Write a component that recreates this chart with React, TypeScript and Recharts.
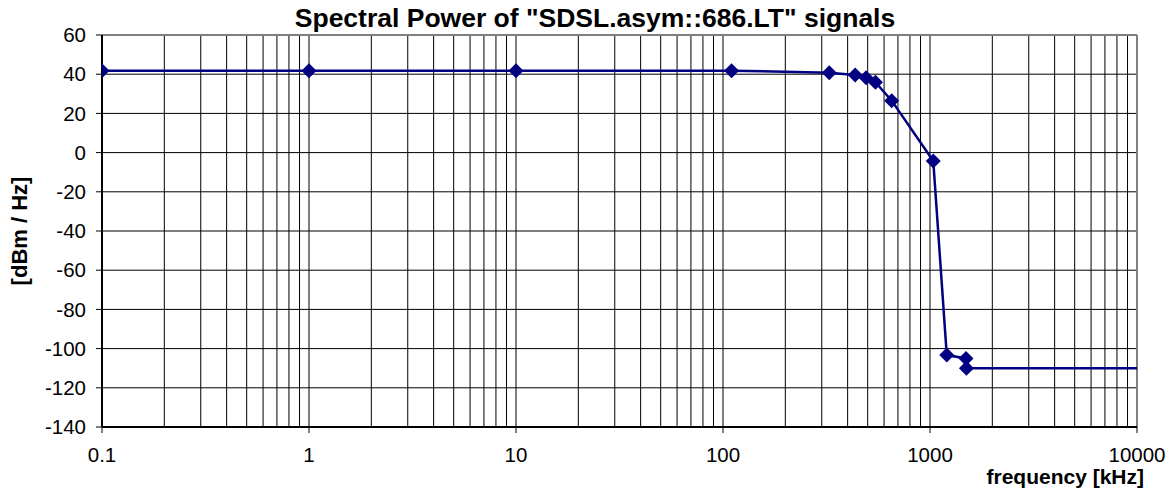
import { LineChart, Line, XAxis, YAxis, CartesianGrid, ReferenceLine } from "recharts";

const frequencies = [0.1, 1, 10, 110, 326, 435, 491, 545, 653, 1037, 1205, 1493, 1500, 10000];
const powers = [41.8, 41.8, 41.8, 41.8, 40.8, 39.6, 38.2, 35.9, 26.5, -4.3, -103.3, -105, -110, -110];
const decades = [0.1, 1, 10, 100, 1000, 10000];
const yTicks = [-140, -120, -100, -80, -60, -40, -20, 0, 20, 40, 60];

const xTicks: number[] = [];
decades.slice(0, -1).forEach((d) => {
  for (let m = 1; m <= 9; m++) xTicks.push(Number((d * m).toPrecision(3)));
});
xTicks.push(10000);

const data = frequencies.map((f, i) => ({ f, p: powers[i] }));

const FONT = "'Liberation Sans', Arial, sans-serif";

const XTick = (props: any) => {
  const { x, y, payload } = props;
  if (!decades.includes(payload.value)) return null;
  return (
    <g>
      <line x1={x} x2={x} y1={y} y2={y + 6} stroke="#000" />
      <text x={x} y={y + 35} textAnchor="middle" fontSize={20.5} fontFamily={FONT} fill="#000">
        {String(payload.value)}
      </text>
    </g>
  );
};

const Diamond = (props: any) => {
  const { cx, cy, index } = props;
  if (index === frequencies.length - 1 || cx == null) return <g key={index} />;
  const r = 7.5;
  return (
    <polygon
      key={index}
      points={`${cx},${cy - r} ${cx + r},${cy} ${cx},${cy + r} ${cx - r},${cy}`}
      fill="#000080"
    />
  );
};

export default function App() {
  return (
    <div style={{ position: "absolute", left: 0, top: 0, width: 1174, height: 490, background: "#fff", fontFamily: FONT }}>
      <div
        style={{
          position: "absolute",
          left: 0,
          width: 1190,
          top: 3,
          textAlign: "center",
          fontSize: 26.5,
          fontWeight: "bold",
          color: "#000",
          whiteSpace: "nowrap",
        }}
      >
        Spectral Power of "SDSL.asym::686.LT" signals
      </div>
      <div
        style={{
          position: "absolute",
          left: 20,
          top: 231,
          transform: "translate(-50%, -50%) rotate(-90deg)",
          fontSize: 22,
          fontWeight: "bold",
          whiteSpace: "nowrap",
        }}
      >
        [dBm / Hz]
      </div>
      <div
        style={{
          position: "absolute",
          right: 30,
          top: 466,
          fontSize: 21,
          lineHeight: 1,
          fontWeight: "bold",
          whiteSpace: "nowrap",
        }}
      >
        frequency [kHz]
      </div>
      <LineChart width={1174} height={490} data={data} margin={{ top: 35, right: 37, bottom: 0, left: 0 }}>
        <CartesianGrid stroke="#000" strokeWidth={1} />
        <XAxis
          dataKey="f"
          type="number"
          scale="log"
          domain={[0.1, 10000]}
          allowDataOverflow
          ticks={xTicks}
          interval={0}
          height={63}
          tickLine={false}
          tickSize={0}
          tickMargin={0}
          axisLine={{ stroke: "#000", strokeWidth: 2 }}
          tick={<XTick />}
        />
        <YAxis
          type="number"
          domain={[-140, 60]}
          ticks={yTicks}
          interval={0}
          width={102}
          tickSize={6}
          tickMargin={10}
          tickLine={{ stroke: "#000" }}
          axisLine={{ stroke: "#000", strokeWidth: 2 }}
          tick={{ fontSize: 20.5, fill: "#000", fontFamily: FONT }}
        />
        <ReferenceLine y={60} stroke="#808080" strokeWidth={2} />
        <ReferenceLine x={10000} stroke="#808080" strokeWidth={2} />
        <Line
          dataKey="p"
          stroke="#000080"
          strokeWidth={2.5}
          dot={<Diamond />}
          activeDot={false}
          isAnimationActive={false}
        />
      </LineChart>
    </div>
  );
}
